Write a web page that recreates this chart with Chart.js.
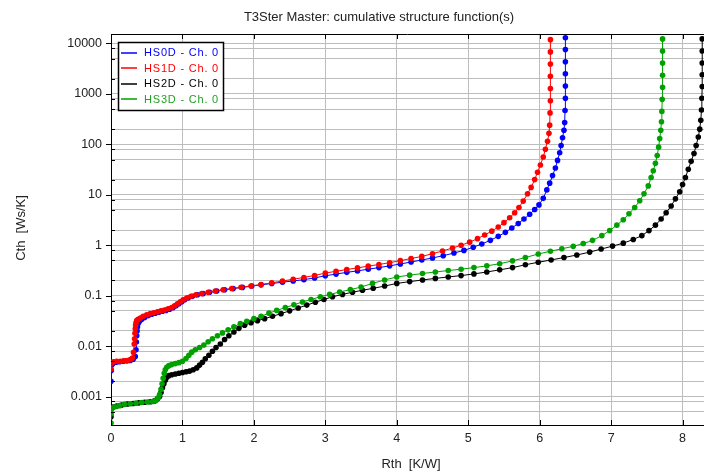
<!DOCTYPE html>
<html><head><meta charset="utf-8">
<script src="https://cdn.jsdelivr.net/npm/chart.js@4/dist/chart.umd.min.js"></script>
<style>html,body{margin:0;padding:0;background:#fff}#wrap{width:704px;height:472px;position:relative}</style>
</head><body><div id="wrap"><canvas id="c" width="704" height="472"></canvas></div>
<script>
const chartTitle = 'T3Ster Master: cumulative structure function(s)';
const xTitle = 'Rth  [K/W]';
const yTitle = 'Cth  [Ws/K]';
const seriesNames = ['HS0D - Ch. 0', 'HS1D - Ch. 0', 'HS2D - Ch. 0', 'HS3D - Ch. 0'];
const seriesColors = ['#0000ff', '#ff0000', '#000000', '#00a000'];
const xTicks = [0, 1, 2, 3, 4, 5, 6, 7, 8];
const yLabelTicks = [0.001, 0.01, 0.1, 1, 10, 100, 1000, 10000];
const yGridMantissas = [1, 2, 5, 8];

// [Rth, Cth] pairs
const hs0d = [[0,0.002],[0.003,0.0033],[0.01,0.0042],[0.03,0.0046],[0.07,0.0048],[0.12,0.0049],[0.17,0.005],[0.22,0.0051],[0.27,0.0052],[0.31,0.0055],[0.34,0.0062],[0.35,0.0085],[0.355,0.012],[0.36,0.016],[0.365,0.02],[0.37,0.024],[0.38,0.028],[0.40,0.031],[0.43,0.034],[0.47,0.037],[0.52,0.040],[0.57,0.043],[0.62,0.045],[0.67,0.047],[0.72,0.049],[0.77,0.051],[0.82,0.054],[0.87,0.058],[0.91,0.063],[0.95,0.069],[0.99,0.076],[1.03,0.083],[1.08,0.090],[1.14,0.097],[1.21,0.104],[1.29,0.110],[1.38,0.117],[1.48,0.124],[1.59,0.131],[1.71,0.138],[1.84,0.146],[1.97,0.155],[2.10,0.164],[2.25,0.174],[2.40,0.185],[2.55,0.196],[2.70,0.208],[2.85,0.225],[3.00,0.248],[3.15,0.268],[3.30,0.29],[3.45,0.31],[3.60,0.335],[3.75,0.36],[3.90,0.39],[4.05,0.425],[4.20,0.465],[4.35,0.51],[4.50,0.56],[4.65,0.62],[4.80,0.70],[4.94,0.79],[5.07,0.91],[5.19,1.06],[5.31,1.25],[5.42,1.5],[5.52,1.8],[5.61,2.2],[5.70,2.7],[5.78,3.3],[5.86,4.1],[5.93,5.1],[5.99,6.3],[6.05,8.5],[6.10,12.5],[6.14,17],[6.18,24],[6.22,34],[6.25,48],[6.28,68],[6.30,95],[6.32,135],[6.34,190],[6.35,270],[6.355,470],[6.36,820],[6.36,1430],[6.36,2500],[6.36,4350],[6.36,7600],[6.36,13000]];
const hs1d = [[0,0.0035],[0.004,0.0045],[0.015,0.0048],[0.04,0.0049],[0.08,0.005],[0.13,0.005],[0.18,0.0051],[0.23,0.0052],[0.27,0.0054],[0.30,0.0058],[0.315,0.0075],[0.325,0.011],[0.33,0.014],[0.335,0.018],[0.34,0.022],[0.345,0.026],[0.35,0.029],[0.36,0.032],[0.38,0.034],[0.41,0.036],[0.45,0.039],[0.50,0.042],[0.55,0.044],[0.60,0.046],[0.65,0.048],[0.70,0.050],[0.75,0.052],[0.80,0.055],[0.85,0.058],[0.89,0.063],[0.93,0.069],[0.97,0.076],[1.01,0.083],[1.06,0.090],[1.12,0.097],[1.19,0.104],[1.27,0.110],[1.36,0.117],[1.46,0.124],[1.57,0.131],[1.69,0.139],[1.82,0.147],[1.96,0.156],[2.10,0.167],[2.25,0.18],[2.40,0.195],[2.55,0.212],[2.70,0.23],[2.85,0.252],[3.00,0.28],[3.15,0.305],[3.30,0.33],[3.45,0.355],[3.60,0.385],[3.75,0.415],[3.90,0.45],[4.05,0.495],[4.20,0.545],[4.35,0.60],[4.50,0.68],[4.64,0.77],[4.78,0.88],[4.90,1.0],[5.02,1.15],[5.13,1.35],[5.23,1.6],[5.33,1.9],[5.42,2.3],[5.50,2.8],[5.58,3.5],[5.65,4.4],[5.71,5.6],[5.77,7.5],[5.83,10.5],[5.88,14],[5.93,20],[5.97,28],[6.01,39],[6.05,56],[6.08,80],[6.11,115],[6.13,165],[6.14,240],[6.145,420],[6.15,730],[6.15,1280],[6.15,2240],[6.15,3900],[6.15,6800],[6.15,11900]];
const hs2d = [[0,0.0004],[0.005,0.00058],[0.03,0.00062],[0.08,0.00065],[0.15,0.00068],[0.23,0.00071],[0.31,0.00073],[0.39,0.00075],[0.47,0.00077],[0.55,0.00079],[0.61,0.00082],[0.65,0.0009],[0.68,0.001],[0.70,0.0012],[0.72,0.0015],[0.74,0.0018],[0.76,0.0021],[0.78,0.0024],[0.81,0.0026],[0.85,0.0027],[0.90,0.0028],[0.95,0.0029],[1.00,0.003],[1.05,0.0031],[1.10,0.0032],[1.15,0.0034],[1.20,0.0037],[1.24,0.0042],[1.28,0.0048],[1.32,0.0056],[1.37,0.0066],[1.42,0.0079],[1.47,0.0094],[1.53,0.011],[1.59,0.0135],[1.65,0.016],[1.72,0.019],[1.79,0.0225],[1.87,0.026],[1.96,0.029],[2.05,0.032],[2.15,0.035],[2.26,0.039],[2.38,0.044],[2.50,0.05],[2.62,0.057],[2.74,0.065],[2.86,0.074],[2.98,0.084],[3.10,0.095],[3.24,0.106],[3.38,0.117],[3.52,0.128],[3.67,0.14],[3.83,0.155],[4.00,0.175],[4.18,0.19],[4.36,0.205],[4.54,0.22],[4.72,0.235],[4.90,0.25],[5.08,0.27],[5.26,0.295],[5.44,0.325],[5.62,0.36],[5.80,0.41],[5.98,0.46],[6.16,0.51],[6.34,0.57],[6.52,0.64],[6.70,0.73],[6.86,0.84],[7.02,0.96],[7.17,1.1],[7.31,1.3],[7.43,1.55],[7.53,1.95],[7.62,2.5],[7.70,3.3],[7.77,4.4],[7.84,6.0],[7.90,8.3],[7.96,11.5],[8.00,16],[8.04,22],[8.08,32],[8.12,46],[8.16,66],[8.19,95],[8.22,140],[8.24,200],[8.255,300],[8.265,480],[8.27,820],[8.275,1400],[8.275,2400],[8.275,4100],[8.275,7100],[8.275,12300]];
const hs3d = [[0,0.0003],[0.002,0.00045],[0.006,0.00056],[0.02,0.0006],[0.06,0.00063],[0.12,0.00066],[0.19,0.0007],[0.27,0.00072],[0.35,0.00074],[0.43,0.00076],[0.51,0.00078],[0.58,0.0008],[0.63,0.00084],[0.66,0.00095],[0.68,0.0011],[0.70,0.0014],[0.715,0.0018],[0.73,0.0023],[0.745,0.0029],[0.76,0.0034],[0.78,0.0038],[0.81,0.0041],[0.85,0.0043],[0.90,0.0045],[0.95,0.0047],[1.00,0.005],[1.05,0.0057],[1.09,0.0066],[1.13,0.0076],[1.18,0.0085],[1.24,0.0094],[1.30,0.0105],[1.36,0.0122],[1.42,0.014],[1.49,0.016],[1.56,0.0183],[1.64,0.021],[1.72,0.0242],[1.81,0.028],[1.90,0.031],[2.00,0.035],[2.10,0.039],[2.21,0.045],[2.32,0.051],[2.44,0.058],[2.56,0.066],[2.68,0.075],[2.80,0.084],[2.93,0.095],[3.06,0.106],[3.20,0.118],[3.35,0.132],[3.50,0.148],[3.66,0.175],[3.83,0.205],[4.00,0.235],[4.18,0.255],[4.36,0.275],[4.54,0.295],[4.72,0.315],[4.90,0.335],[5.08,0.36],[5.26,0.39],[5.44,0.43],[5.62,0.49],[5.80,0.57],[5.98,0.67],[6.15,0.76],[6.31,0.85],[6.47,0.95],[6.61,1.08],[6.74,1.25],[6.87,1.55],[6.98,1.95],[7.08,2.5],[7.17,3.2],[7.25,4.2],[7.33,5.6],[7.40,7.6],[7.46,10.5],[7.52,15],[7.56,22],[7.59,30],[7.62,42],[7.645,60],[7.665,88],[7.68,130],[7.695,190],[7.705,280],[7.71,450],[7.715,780],[7.72,1350],[7.72,2350],[7.72,4100],[7.72,7100],[7.72,12300]];

const seriesData = [hs0d, hs1d, hs2d, hs3d];
const drawOrder = [2, 0, 3, 1];

const FONT = '"Liberation Sans", Arial, sans-serif';
const isDecade = v => Math.abs(Math.log10(v) - Math.round(Math.log10(v))) < 1e-9;

const decorations = {
  id: 'decorations',
  afterDraw(chart) {
    const {ctx, chartArea: a, scales: {x, y}} = chart;
    ctx.save();
    ctx.strokeStyle = '#000';
    ctx.lineWidth = 1;
    ctx.beginPath();
    ctx.moveTo(a.left, Math.round(a.top) + 0.5);
    ctx.lineTo(a.right, Math.round(a.top) + 0.5);
    xTicks.forEach(v => {
      const px = Math.round(x.getPixelForValue(v)) + 0.5;
      ctx.moveTo(px, a.bottom); ctx.lineTo(px, a.bottom - 5);
      ctx.moveTo(px, a.top); ctx.lineTo(px, a.top + 5);
    });
    y.ticks.forEach(t => {
      const py = Math.round(y.getPixelForValue(t.value)) + 0.5;
      if (isDecade(t.value)) { ctx.moveTo(a.left - 5, py); ctx.lineTo(a.left, py); }
      else { ctx.moveTo(a.left, py); ctx.lineTo(a.left + 4, py); }
    });
    ctx.stroke();

    ctx.fillStyle = '#222';
    ctx.textAlign = 'center';
    ctx.textBaseline = 'middle';
    ctx.font = '12.5px ' + FONT;
    xTicks.forEach(v => ctx.fillText(String(v), x.getPixelForValue(v), 439));

    ctx.font = '13px ' + FONT;
    ctx.fillText(chartTitle, 379, 17);
    ctx.fillText(xTitle, 411, 464);
    ctx.save();
    ctx.translate(21, 228);
    ctx.rotate(-Math.PI / 2);
    ctx.fillText(yTitle, 0, 0);
    ctx.restore();

    // legend box
    const lx = 118, ly = 42, lw = 105, lh = 68;
    ctx.fillStyle = '#fff';
    ctx.fillRect(lx, ly, lw, lh);
    ctx.lineWidth = 1.5;
    ctx.strokeStyle = '#000';
    ctx.strokeRect(lx + 0.5, ly + 0.5, lw, lh);
    ctx.font = '11px ' + FONT;
    ctx.textAlign = 'left';
    try { ctx.letterSpacing = '0.8px'; } catch (e) {}
    seriesNames.forEach((name, i) => {
      const yy = 52.5 + i * 15.6;
      ctx.strokeStyle = seriesColors[i];
      ctx.lineWidth = 1.5;
      ctx.beginPath();
      ctx.moveTo(121, Math.round(yy)); ctx.lineTo(137, Math.round(yy));
      ctx.stroke();
      ctx.fillStyle = seriesColors[i] === '#00a000' ? '#22a022' : seriesColors[i];
      ctx.fillText(name, 144, yy + 0.5);
    });
    ctx.restore();
  }
};

new Chart(document.getElementById('c'), {
  type: 'line',
  data: {
    datasets: seriesData.map((d, i) => ({
      label: seriesNames[i],
      data: d.map(p => ({x: p[0], y: p[1]})),
      borderColor: seriesColors[i],
      backgroundColor: seriesColors[i],
      borderWidth: 1,
      pointRadius: 2.8,
      pointBorderWidth: 0,
      pointStyle: 'circle',
      fill: false,
      tension: 0,
      order: drawOrder[i]
    }))
  },
  options: {
    responsive: false,
    animation: false,
    devicePixelRatio: 1,
    layout: {autoPadding: false, padding: {top: 34, left: 0, right: 0, bottom: 0}},
    plugins: {legend: {display: false}, title: {display: false}, tooltip: {enabled: false}},
    scales: {
      x: {
        type: 'linear', min: 0, max: 8.3,
        afterBuildTicks: s => { s.ticks = xTicks.map(v => ({value: v})); },
        afterFit: s => { s.height = 47; },
        grid: {color: '#bdbdbd', lineWidth: 1, drawTicks: false},
        border: {display: true, color: '#000', width: 1},
        ticks: {display: false}
      },
      y: {
        type: 'logarithmic', min: 0.000273, max: 15400,
        afterBuildTicks: s => {
          const t = [];
          for (let k = -4; k <= 4; k++) yGridMantissas.forEach(m => {
            const v = m * Math.pow(10, k);
            if (v >= s.min && v <= s.max) t.push({value: v});
          });
          s.ticks = t;
        },
        afterFit: s => { s.width = 111; },
        grid: {color: '#bdbdbd', lineWidth: 1, drawTicks: false},
        border: {display: true, color: '#000', width: 1},
        ticks: {color: '#222', font: {family: FONT, size: 12.5}, padding: 9, autoSkip: false,
          callback: v => (isDecade(v) && yLabelTicks.some(d => Math.abs(d - v) / d < 1e-9)) ? String(yLabelTicks.find(d => Math.abs(d - v) / d < 1e-9)) : ''}
      }
    }
  },
  plugins: [decorations]
});
</script></body></html>
